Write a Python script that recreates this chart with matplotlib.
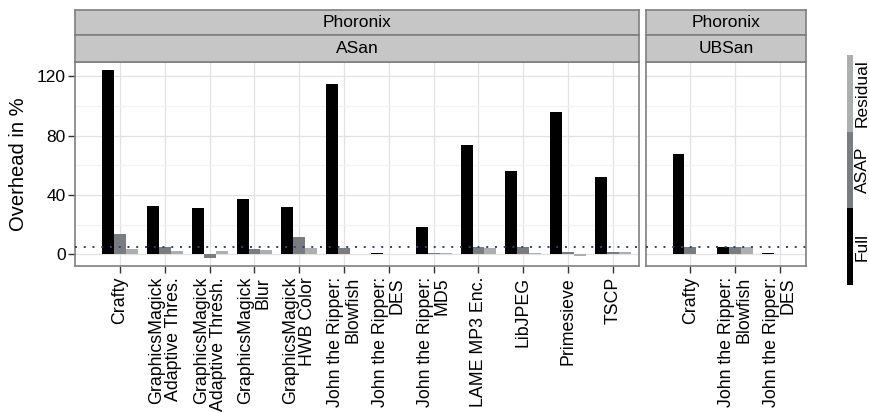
import numpy as np
import matplotlib.pyplot as plt

plt.rcParams['font.family'] = ['Liberation Sans', 'DejaVu Sans']

# ---- data ----
asan_labels = ['Crafty', 'GraphicsMagick\nAdaptive Thres.', 'GraphicsMagick\nAdaptive Thresh.',
               'GraphicsMagick\nBlur', 'GraphicsMagick\nHWB Color', 'John the Ripper:\nBlowfish',
               'John the Ripper:\nDES', 'John the Ripper:\nMD5', 'LAME MP3 Enc.', 'LibJPEG',
               'Primesieve', 'TSCP']
asan_full = [124.3, 32.6, 31.2, 37.3, 31.9, 114.8, 0.6, 18.4, 73.7, 56.2, 96.0, 52.1]
asan_asap = [13.7, 4.9, -2.3, 3.8, 11.7, 4.2, 0.3, 1.1, 4.9, 4.9, 1.5, 1.5]
asan_resid = [3.7, 2.4, 2.4, 2.9, 4.2, 0.3, 0.3, 1.1, 4.5, 0.9, -1.0, 1.5]

ubsan_labels = ['Crafty', 'John the Ripper:\nBlowfish', 'John the Ripper:\nDES']
ubsan_full = [67.6, 4.9, 0.6]
ubsan_asap = [4.9, 4.9, 0.3]
ubsan_resid = [0.3, 4.9, 0.3]

series_names = ['Full', 'ASAP', 'Residual']
series_colors = ['#000000', '#7a7d80', '#adafaf']

threshold = 5.0

W, H = 869, 412
fig = plt.figure(figsize=(W / 100, H / 100), dpi=100)

def px(x0, y0, x1, y1):
    # pixel box -> figure fraction rect
    return [x0 / W, 1 - y1 / H, (x1 - x0) / W, (y1 - y0) / H]

edge = '#7f7f7f'
bw = 0.8 / 3

def panel(rect, labels, full, asap, resid, ylab):
    ax = fig.add_axes(rect)
    n = len(labels)
    x = np.arange(n)
    for k, vals in enumerate([full, asap, resid]):
        ax.bar(x + (k - 1) * bw, vals, width=bw, color=series_colors[k], zorder=3)
    ax.axhline(threshold, color='#333b8c', linewidth=1.4, linestyle=(0, (1, 3.5)), zorder=4)
    ax.set_xlim(-1.0, n - 1 + 0.59)
    ax.set_ylim(-7.9, 129.7)
    ax.set_xticks(x)
    ax.set_xticklabels(labels, rotation=90, ha='center', va='top', multialignment='right',
                       fontsize=12.8, linespacing=1.0)
    ax.set_yticks([0, 40, 80, 120])
    ax.set_yticks([20, 60, 100], minor=True)
    ax.grid(True, which='major', color='#e2e2e2', linewidth=0.9, zorder=0)
    ax.grid(True, which='minor', axis='y', color='#f2f2f2', linewidth=0.9, zorder=0)
    ax.set_axisbelow(True)
    ax.tick_params(axis='x', length=5, width=1, color='#333333', pad=3)
    ax.tick_params(axis='y', which='minor', length=0)
    if ylab:
        ax.tick_params(axis='y', length=5, width=1, color='#333333', labelsize=12.5, pad=2)
        ax.set_ylabel('Overhead in %', fontsize=14.5, labelpad=6)
    else:
        ax.tick_params(axis='y', length=0, labelleft=False)
    for s in ax.spines.values():
        s.set_color(edge)
        s.set_linewidth(1.2)
    return ax

def strip(rect, text):
    sa = fig.add_axes(rect)
    sa.set_facecolor('#c6c6c6')
    sa.set_xticks([])
    sa.set_yticks([])
    for s in sa.spines.values():
        s.set_color(edge)
        s.set_linewidth(1.2)
    sa.text(0.5, 0.5, text, ha='center', va='center', fontsize=12.5, transform=sa.transAxes)

panel(px(75.3, 62, 639.3, 266), asan_labels, asan_full, asan_asap, asan_resid, True)
panel(px(645.7, 62, 806.3, 266), ubsan_labels, ubsan_full, ubsan_asap, ubsan_resid, False)

strip(px(75.3, 9.5, 639.3, 35), 'Phoronix')
strip(px(75.3, 35, 639.3, 62), 'ASan')
strip(px(645.7, 9.5, 806.3, 35), 'Phoronix')
strip(px(645.7, 35, 806.3, 62), 'UBSan')

# legend drawn as a vertical strip of colour keys
lg = fig.add_axes(px(846.5, 55, 853.3, 285))
lg.bar([0, 0, 0], [1, 1, 1], bottom=[0, 1, 2], width=1, color=series_colors)
lg.set_xlim(-0.5, 0.5)
lg.set_ylim(0, 3)
lg.axis('off')
for k, name in enumerate(series_names):
    lg.text(0.75, k + 0.5, name, rotation=90, ha='left', va='center', fontsize=12.5,
            transform=lg.transData, clip_on=False)

plt.savefig('out.png', dpi=100)
